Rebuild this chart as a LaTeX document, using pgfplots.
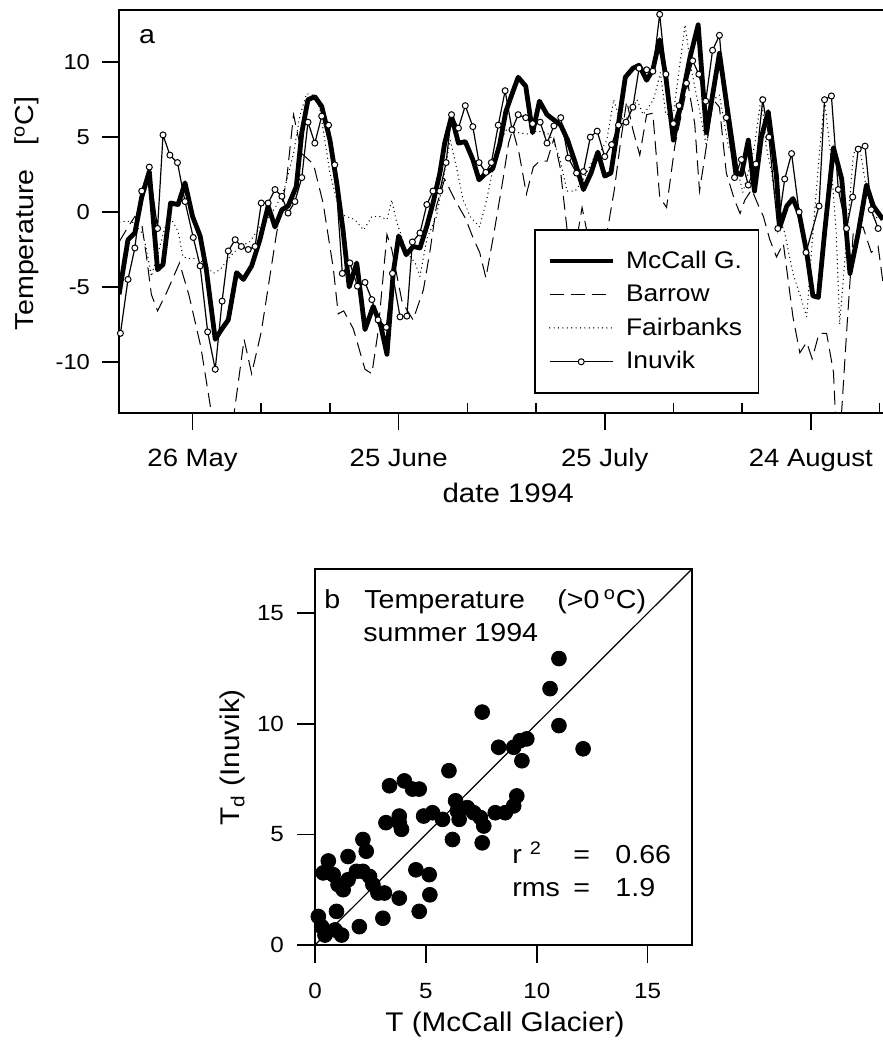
\documentclass[border=0pt]{standalone}
\usepackage{fontspec}
\setmainfont{Liberation Sans}[FakeStretch=1.1]
\usepackage{pgfplots}
\pgfplotsset{compat=1.18}
\pgfplotsset{myleg/.style={legend image code/.code={\draw[mark repeat=2,mark phase=2,##1] plot coordinates {(0pt,0pt) (15.75pt,0pt) (31.5pt,0pt)};}}}
\begin{document}
\begin{tikzpicture}
\path[use as bounding box] (0pt,0pt) rectangle (441.5pt,520pt);
% ---------------- panel a ----------------
\begin{axis}[
  at={(59.5pt,313.5pt)}, anchor=south west, scale only axis,
  width=383pt, height=201.5pt,
  xmin=135.29, xmax=246.8, ymin=-13.42, ymax=13.49,
  axis line style={line width=0.8pt},
  xtick={146,176,206,236}, xticklabels={26 May,25 June,25 July,24 August},
  extra x ticks={156,166,186,196,216,226,246}, extra x tick labels={},
  extra x tick style={tick align=inside, major tick length=5pt},
  ytick={-10,-5,0,5,10},
  tick align=outside, major tick length=8.5pt,
  xtick pos=bottom, ytick pos=left,
  tick style={black, line width=0.8pt},
  /pgf/number format/assume math mode=true,
  yticklabel style={font=\fontsize{10.8}{13}\selectfont, xshift=-2.5pt},
  xticklabel style={font=\fontsize{12.5}{15}\selectfont, anchor=base, yshift=-18.5pt},
  ylabel={Temperature~~~[\textsuperscript{o}C]},
  xlabel={date 1994},
  ylabel style={font=\fontsize{13}{15}\selectfont, at={(axis description cs:-0.1119,0.495)}, anchor=base},
  xlabel style={font=\fontsize{13.4}{15}\selectfont, at={(axis description cs:0.508,-0.222)}, anchor=base},
  legend style={at={(axis description cs:0.5418,0.4566)}, anchor=north west,
    draw=black, line width=0.8pt, fill=white, font=\fontsize{12}{14}\selectfont,
    inner xsep=6.25pt, inner ysep=8.5pt, row sep=2.75pt, column sep=3.5pt, cells={anchor=west}},
]
\addplot[black, line width=2.4pt, line join=round, myleg] table {
135.3 -5.5
136.6 -1.85
137.6 -1.4
138.6 1.0
139.7 2.7
140.9 -3.85
141.7 -3.5
142.8 0.6
143.9 0.5
144.9 1.95
146.0 -0.3
147.1 -1.6
148.0 -3.85
149.3 -8.5
150.2 -7.85
151.2 -7.2
152.4 -4.05
153.4 -4.5
154.6 -3.6
155.8 -1.85
157.0 0.4
158.0 -1.0
159.0 0.15
159.9 0.4
161.1 1.7
161.9 5.3
162.8 7.5
163.8 7.7
164.8 7.05
166.0 4.8
167.0 1.9
167.9 -1.2
168.8 -5.0
169.9 -3.4
171.1 -7.85
172.3 -6.3
173.4 -7.6
174.3 -9.5
175.2 -4.1
176.0 -1.6
177.1 -2.85
178.1 -2.3
179.1 -2.4
180.1 -0.95
181.0 0.6
182.0 2.6
182.7 4.6
183.7 6.4
184.7 4.6
185.7 4.7
186.8 3.5
187.7 2.15
188.7 2.6
189.7 2.9
190.7 4.5
191.6 6.7
192.6 8.0
193.4 9.0
194.5 8.4
195.5 5.3
196.5 7.4
197.6 6.5
198.6 6.15
199.6 5.8
200.6 4.8
201.7 3.3
202.9 1.5
204.0 2.6
205.0 4.0
206.0 2.4
206.9 2.6
208.0 5.9
209.0 9.0
210.1 9.6
211.0 9.8
212.1 8.8
213.0 9.5
214.0 11.5
214.9 9.0
216.0 4.8
216.9 6.8
218.4 10.3
219.6 12.5
220.8 5.3
222.7 10.6
224.0 6.4
225.2 2.6
225.9 2.5
226.9 4.8
227.8 1.4
228.8 5.0
229.8 6.7
231.0 2.4
231.5 -1.0
232.5 0.4
233.4 0.9
234.3 -0.1
235.4 -2.7
236.3 -5.6
237.1 -5.7
238.0 -1.4
239.3 4.3
240.5 2.2
241.7 -4.1
242.9 -1.4
244.1 1.8
245.1 0.4
246.5 -0.5
};
\addlegendentry{McCall G.}
\addplot[black, line width=0.5pt, dash pattern=on 7pt off 3.5pt, myleg] table {
135.3 -2.0
136.6 -1.0
137.6 -0.3
138.6 -0.8
139.3 -3.0
140.0 -5.5
140.9 -6.6
142.2 -5.4
144.1 -3.4
145.5 -5.6
147.2 -9.0
150.0 -17.0
151.0 -17.0
153.5 -8.5
154.6 -10.8
156.0 -8.0
158.2 -1.5
159.7 2.2
160.7 6.5
161.9 3.9
163.6 3.2
165.0 0.6
166.5 -3.8
167.2 -6.8
168.0 -6.6
169.4 -7.8
171.1 -10.5
172.1 -10.8
173.0 -8.0
174.3 -1.5
175.0 -2.5
176.5 -6.0
178.1 -7.2
179.6 -5.2
180.6 -2.5
181.5 0.4
182.7 2.2
184.2 0.8
185.7 -0.4
186.9 -1.8
187.8 -2.7
188.7 -4.4
189.8 -1.6
191.2 2.2
192.0 4.6
192.6 5.5
193.5 4.0
194.6 1.2
195.6 3.0
196.5 3.4
197.6 3.4
198.6 4.9
199.5 3.0
200.6 -1.5
201.5 -3.0
202.7 0.3
203.5 -1.5
204.5 -4.0
205.6 -3.0
206.4 -1.2
207.4 1.5
208.4 5.0
209.2 7.4
210.1 5.5
211.1 3.8
212.1 6.5
213.0 6.6
214.0 1.0
215.0 0.3
216.2 4.4
218.1 8.6
219.1 5.9
219.8 1.4
220.8 4.4
221.8 7.5
222.7 7.0
223.7 2.6
224.9 0.8
225.7 -0.1
226.4 0.8
227.4 1.5
228.5 0.3
229.1 -0.3
230.0 -1.8
231.0 -3.0
232.0 -2.1
233.4 -7.0
234.4 -9.4
235.4 -8.7
236.2 -9.8
237.2 -8.1
238.3 -8.1
239.3 -10.7
239.7 -14.7
240.3 -14.7
241.2 -8.1
242.2 -1.2
243.6 -1.0
244.8 -2.7
245.8 -2.3
246.5 -4.7
};
\addlegendentry{Barrow}
\addplot[black, line width=0.7pt, line cap=round, dash pattern=on 0pt off 2.2pt, myleg] table {
135.4 -0.7
136.4 -0.6
137.4 -0.7
138.8 -1.5
139.5 -3.0
140.0 -4.3
141.0 -2.7
142.0 -1.0
142.7 -0.3
143.9 -1.3
144.6 -3.0
145.4 -3.1
146.8 -3.1
148.0 -3.6
149.0 -4.1
150.0 -3.85
151.4 -3.0
152.9 -2.3
154.3 -2.0
155.8 -1.0
156.8 -0.5
158.2 0.4
159.4 1.6
160.7 3.9
161.6 6.4
162.6 7.9
163.5 7.8
164.5 7.0
166.0 2.6
167.5 -0.1
168.4 -0.3
169.6 -0.5
170.9 -1.2
172.1 -0.3
173.3 -0.3
174.3 -0.5
175.0 0.8
175.6 -0.5
177.2 -2.7
178.4 -3.4
179.1 -4.3
180.1 -1.8
181.5 -0.3
182.5 2.2
183.5 4.8
184.4 3.0
185.4 0.8
186.4 -0.3
187.8 -1.0
188.8 0.8
189.8 3.0
190.7 4.6
191.7 5.5
192.7 5.3
193.7 5.3
194.6 5.2
196.1 5.4
197.6 5.3
198.5 4.8
199.5 3.5
200.5 1.4
201.7 1.4
202.9 2.2
204.3 3.5
205.6 4.2
206.3 4.8
207.3 7.5
208.2 6.2
209.4 6.3
210.7 7.5
211.6 6.5
213.1 7.5
214.1 9.3
214.9 6.5
216.0 6.6
217.7 12.5
218.6 9.5
219.8 6.8
220.8 4.4
221.8 7.5
222.7 7.8
224.0 4.4
224.9 3.7
226.1 1.3
226.9 2.6
227.8 4.4
228.8 7.8
229.5 4.4
230.3 2.6
231.0 0.2
232.2 -1.4
233.4 -4.1
234.6 -5.8
235.4 -7.0
236.3 -1.4
237.3 4.2
238.0 7.5
238.8 4.2
239.7 -1.4
240.2 -7.5
241.2 -1.8
242.2 3.9
243.1 4.4
244.1 1.5
245.1 -0.3
246.5 -0.5
};
\addlegendentry{Fairbanks}
\addplot[black, line width=0.6pt, mark=*, mark size=1.5pt, mark options={fill=white, draw=black, line width=0.5pt, solid}, myleg] table {
135.5 -8.1
136.6 -4.5
137.6 -2.4
138.6 1.4
139.7 3.0
140.9 -1.1
141.7 5.15
142.7 3.8
143.8 3.3
144.9 0.7
146.1 -1.7
147.1 -3.6
148.2 -8.0
149.3 -10.5
150.3 -5.95
151.2 -2.6
152.2 -1.85
153.1 -2.3
154.1 -2.5
155.1 -2.3
156.0 0.6
157.0 0.6
158.0 1.5
159.0 1.05
159.9 -0.07
160.9 0.7
161.9 2.3
162.8 6.0
163.8 4.6
164.8 6.4
165.8 5.8
166.7 3.15
167.8 -4.1
168.9 -3.4
170.0 -4.95
171.1 -4.7
172.1 -5.85
173.0 -7.2
174.2 -7.7
175.1 -4.1
176.2 -7.0
177.2 -6.95
178.0 -2.0
179.1 -1.4
180.1 0.5
181.0 1.4
182.0 1.4
182.9 3.3
183.7 6.5
184.7 5.6
185.7 7.1
186.8 5.7
187.7 3.3
188.7 2.65
189.5 3.3
190.5 5.8
191.5 8.1
192.5 5.5
193.4 6.5
194.5 6.3
195.5 5.9
196.6 6.0
197.6 4.6
198.6 5.75
199.6 6.3
200.7 3.6
201.9 2.6
202.9 2.7
203.9 5.0
204.9 5.4
206.0 3.7
207.0 4.5
208.0 5.8
209.1 6.0
210.1 7.0
211.0 9.6
212.1 9.5
213.0 9.4
214.0 13.2
214.9 9.2
216.0 5.9
216.8 7.1
217.9 8.6
218.8 10.1
219.7 9.2
220.7 7.4
221.7 10.8
222.7 11.8
223.7 6.3
224.9 2.3
225.9 3.5
226.9 1.8
228.0 3.2
229.0 7.5
229.9 5.0
231.2 -1.1
232.2 2.2
233.2 3.9
234.3 0.0
235.3 -2.7
237.2 0.4
238.0 7.5
239.0 7.75
240.0 1.5
241.2 -1.1
242.1 1.0
242.9 4.2
243.9 4.4
244.8 0.15
245.8 -1.1
};
\addlegendentry{Inuvik}
\node[font=\fontsize{13}{15}\selectfont] at (axis description cs:0.0366,0.935) {a};
\end{axis}
% ---------------- panel b ----------------
\begin{axis}[
  at={(157.5pt,47.5pt)}, anchor=south west, scale only axis,
  width=188.5pt, height=188pt,
  xmin=0, xmax=17, ymin=0, ymax=17,
  axis line style={line width=0.8pt},
  xtick={0,5,10,15}, ytick={0,5,10,15},
  tick align=outside, major tick length=9pt,
  xtick pos=bottom, ytick pos=left,
  tick style={black, line width=0.8pt},
  /pgf/number format/assume math mode=true,
  yticklabel style={font=\fontsize{11}{13}\selectfont, xshift=-3pt},
  xticklabel style={font=\fontsize{11}{13}\selectfont, anchor=base, yshift=-17.5pt},
  xlabel={T (McCall Glacier)},
  ylabel={T\textsubscript{d} (Inuvik)},
  ylabel style={font=\fontsize{13.5}{15}\selectfont, at={(axis description cs:-0.199,0.499)}, anchor=base},
  xlabel style={font=\fontsize{13.5}{15}\selectfont, at={(axis description cs:0.504,-0.2303)}, anchor=base},
]
\addplot[black, line width=0.6pt] coordinates {(0,0) (17,17)};
\addplot[only marks, mark=*, mark size=3.7pt, black] table {
0.15 1.29
0.3 0.83
0.45 0.45
0.9 0.68
1.2 0.45
0.97 1.52
2.0 0.83
3.06 1.21
4.7 1.52
0.37 3.26
0.6 3.8
0.82 3.18
1.04 2.73
1.27 2.5
1.49 2.95
1.49 4.0
1.87 3.33
2.16 3.33
2.16 4.77
2.31 4.24
2.46 3.1
2.61 2.73
2.84 2.35
3.13 2.35
3.8 2.12
4.55 3.4
5.15 3.18
5.18 2.27
3.2 5.53
3.36 7.2
3.8 5.53
3.9 5.23
4.03 7.42
4.4 7.05
4.7 7.05
3.8 5.83
4.9 5.83
5.3 5.98
5.75 5.68
6.04 7.88
6.2 4.77
6.34 6.52
6.42 6.06
6.5 5.68
6.87 6.21
7.16 5.98
7.46 5.76
7.61 5.38
7.54 4.62
7.54 10.53
8.13 5.98
8.58 5.98
8.96 6.29
9.1 6.74
8.28 8.94
8.96 8.94
9.25 9.24
9.55 9.32
9.33 8.33
10.6 11.59
11.0 12.95
11.0 9.92
12.09 8.87
};
\begin{scope}[every node/.style={anchor=base west, font=\fontsize{13}{15}\selectfont, inner sep=0pt}]
\node at (axis cs:0.41,15.22) {b};
\node at (axis cs:2.21,15.22) {Temperature};
\node at (axis cs:10.91,15.22) {(>0\,\textsuperscript{o}C)};
\node at (axis cs:2.16,13.71) {summer 1994};
\node at (axis cs:8.88,3.7) {r~\textsuperscript{2}};
\node at (axis cs:11.63,3.7) {=};
\node at (axis cs:13.53,3.7) {0.66};
\node at (axis cs:8.88,2.2) {rms};
\node at (axis cs:11.63,2.2) {=};
\node at (axis cs:13.53,2.2) {1.9};
\end{scope}
\end{axis}
\end{tikzpicture}
\end{document}
